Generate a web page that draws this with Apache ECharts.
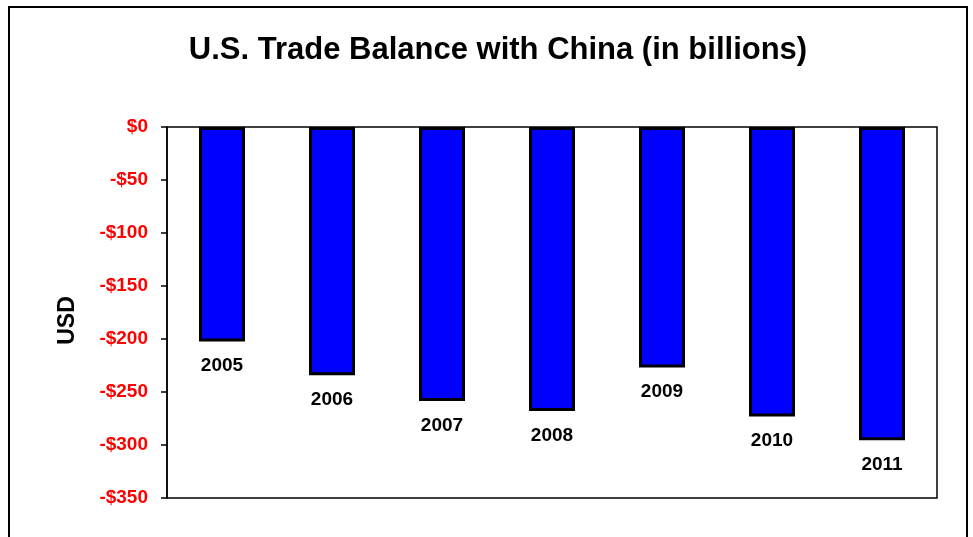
<!DOCTYPE html>
<html lang="en">
<head>
    <meta charset="UTF-8">
    <title>U.S. Trade Balance with China</title>
    <script src="https://cdn.jsdelivr.net/npm/echarts@6/dist/echarts.min.js"></script>
</head>
<body style="margin:0;background:#fff">
<div id="main" style="width:973px;height:537px"></div>
<script type="text/javascript">
    // data
    var years = ['2005', '2006', '2007', '2008', '2009', '2010', '2011'];
    var balance = [-202.3, -234.1, -258.5, -268.0, -226.9, -273.1, -295.5];

    var myChart = echarts.init(document.getElementById('main'));

    var option = {
        animation: false,
        title: {
            text: 'U.S. Trade Balance with China (in billions)',
            left: 493,
            top: 30,
            textAlign: 'center',
            textStyle: {
                fontFamily: 'Liberation Sans',
                fontSize: 31,
                fontWeight: 'bold',
                color: '#000'
            }
        },
        // outer frame of the chart, plus the plot box
        graphic: [{
            type: 'rect',
            shape: { x: 9, y: 7, width: 958, height: 560 },
            style: { fill: 'none', stroke: '#000', lineWidth: 2 },
            silent: true
        }, {
            type: 'rect',
            shape: { x: 167, y: 127, width: 770, height: 371 },
            style: { fill: 'none', stroke: '#000', lineWidth: 1.5 },
            silent: true,
            z: 10
        }],
        grid: { left: 167, right: 36, top: 127, bottom: 39 },
        xAxis: {
            type: 'category',
            data: years,
            position: 'top',
            axisLine: { show: false },
            axisTick: { show: false },
            axisLabel: { show: false }
        },
        yAxis: {
            type: 'value',
            min: -350,
            max: 0,
            interval: 50,
            name: 'USD',
            nameLocation: 'middle',
            nameGap: 88,
            nameTextStyle: {
                fontFamily: 'Liberation Sans',
                fontSize: 23,
                fontWeight: 'bold',
                color: '#000',
                padding: [0, 16, 0, 0]
            },
            axisLine: { show: true, lineStyle: { color: '#000', width: 1.5 } },
            axisTick: { show: true, length: 6, lineStyle: { color: '#000', width: 1.5 } },
            splitLine: { show: false },
            axisLabel: {
                margin: 19,
                fontFamily: 'Liberation Sans',
                fontSize: 19,
                fontWeight: 'bold',
                color: '#ff0000',
                formatter: function (v) {
                    return v < 0 ? '-$' + Math.abs(v) : '$' + v;
                }
            }
        },
        series: [{
            type: 'bar',
            data: balance,
            barWidth: 46,
            itemStyle: {
                color: '#0000ff',
                borderColor: '#000',
                borderWidth: 3
            },
            label: {
                show: true,
                position: 'bottom',
                distance: 15,
                formatter: '{b}',
                fontFamily: 'Liberation Sans',
                fontSize: 19,
                fontWeight: 'bold',
                color: '#000'
            }
        }]
    };

    myChart.setOption(option);
</script>
</body>
</html>
